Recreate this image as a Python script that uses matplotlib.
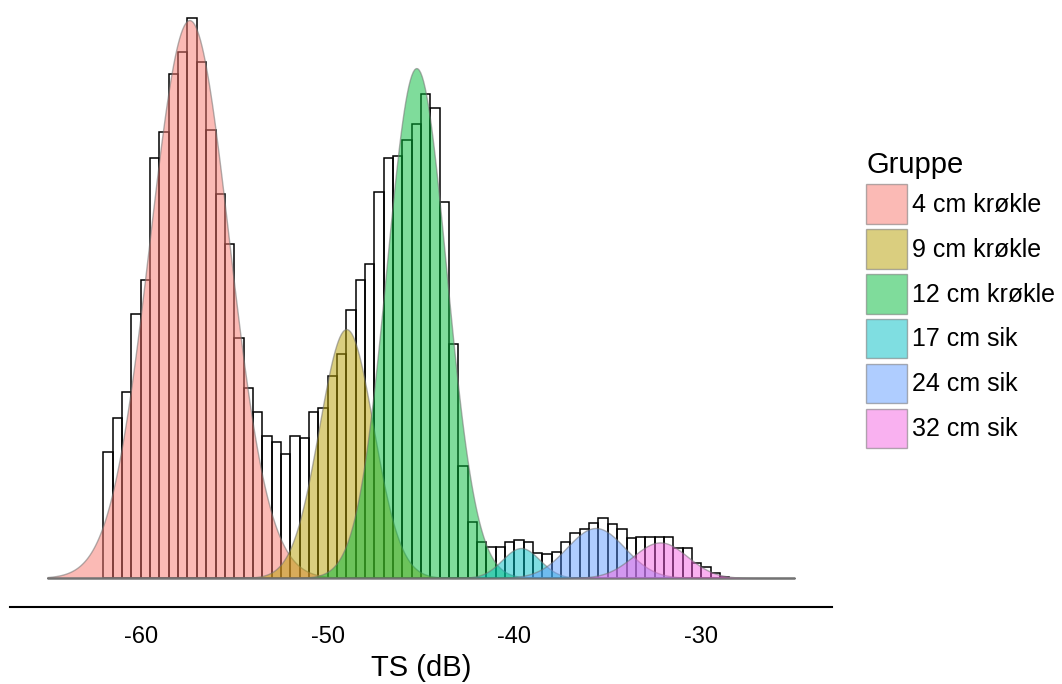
import numpy as np
import matplotlib
matplotlib.use("Agg")
import matplotlib.pyplot as plt

plt.rcParams['font.family'] = ['Liberation Sans', 'DejaVu Sans']
plt.rcParams['axes.unicode_minus'] = False

# histogram: 0.5 dB bins starting at -62 dB
bin_start = -62.0
bin_width = 0.5
counts = [63, 80, 93, 132, 149, 210, 223, 252, 263, 280,
          258, 224, 192, 167, 120, 95, 83, 71, 68, 62,
          71, 70, 83, 85, 101, 112, 134, 149, 157, 193,
          210, 211, 219, 227, 242, 235, 188, 117, 56, 28,
          18, 15.5, 15.5, 18, 19, 18, 12.3, 12, 13, 18,
          22.3, 24.3, 27.3, 30, 27, 24.3, 20, 20.5, 20.5, 20.7,
          20.7, 15, 15, 7.5, 5.3, 2.3, 0.7]

# fitted components (mean dB, sd dB, peak height in count units)
groups = ["4 cm krøkle", "9 cm krøkle", "12 cm krøkle", "17 cm sik", "24 cm sik", "32 cm sik"]
means = [-57.4, -49.0, -45.25, -39.65, -35.65, -32.2]
sds = [2.12, 1.45, 1.6, 1.0, 1.55, 1.45]
peaks = [279, 124.5, 255, 15, 25, 17.8]
colors = ['#F8766D', '#B79F00', '#00BA38', '#00BFC4', '#619CFF', '#F564E3']

x_range = (-65, -25)

fig = plt.figure(figsize=(10.62, 6.84), dpi=100)
W, H = 1062, 684
ax = fig.add_axes([10 / W, 1 - 607 / H, (832 - 10) / W, 607 / H])

left_edges = bin_start + bin_width * np.arange(len(counts))
ax.bar(left_edges, counts, width=bin_width, align='edge', fill=False,
       edgecolor='black', linewidth=1.1, zorder=1)

xs = np.linspace(x_range[0], x_range[1], 500)
for name, mu, sd, pk, col in zip(groups, means, sds, peaks, colors):
    ys = pk * np.exp(-0.5 * ((xs - mu) / sd) ** 2)
    rgba = matplotlib.colors.to_rgba(col, 0.5)
    ax.fill_between(xs, ys, 0, facecolor=rgba, edgecolor=(0.45, 0.45, 0.45, 0.55),
                    linewidth=1.0, label=name, zorder=2)

span = x_range[1] - x_range[0]
ax.set_xlim(x_range[0] - 0.05 * span, x_range[1] + 0.05 * span)
ax.set_ylim(-14.5, 289)

for s in ['left', 'top', 'right']:
    ax.spines[s].set_visible(False)
ax.spines['bottom'].set_linewidth(1.5)
ax.set_yticks([])
ax.set_xticks([-60, -50, -40, -30])
ax.tick_params(axis='x', length=0, pad=14, labelsize=17, labelcolor='black')
ax.set_xlabel("TS (dB)", fontsize=21, labelpad=4)

ax.legend(loc='upper left', bbox_to_anchor=(866 / W, 1 - 151 / H),
          bbox_transform=fig.transFigure, frameon=False, title='Gruppe',
          fontsize=18, title_fontsize=21, handlelength=1.64, handleheight=2.06,
          labelspacing=0.21, handletextpad=0.2, borderpad=0, borderaxespad=0,
          alignment='left')

fig.savefig("out.png", dpi=100)
